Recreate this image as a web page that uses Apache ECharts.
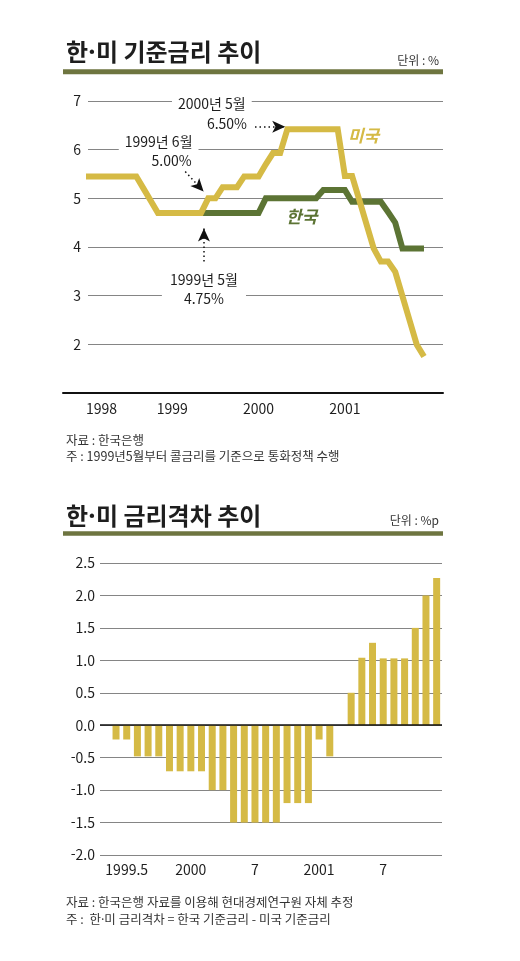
<!DOCTYPE html>
<html lang="ko">
<head>
<meta charset="utf-8">
<title>한·미 기준금리 추이</title>
<script src="https://cdn.jsdelivr.net/npm/echarts@6.0.0/dist/echarts.min.js"></script>
<style>
  html, body { margin: 0; padding: 0; background: #fff; }
  #chart { width: 520px; height: 961px; }
</style>
</head>
<body>
<div id="chart"></div>
<script>
// 기준금리 (%), 월별 1998.1 ~ 2001.12
var yearLabels = ['1998', '1999', '2000', '2001'];
var usRate = [
  5.45, 5.45, 5.45, 5.45, 5.45, 5.45, 5.45, 5.45, 5.2, 4.95, 4.7, 4.7,
  4.7, 4.7, 4.7, 4.7, 4.7, 5.0, 5.0, 5.23, 5.23, 5.23, 5.45, 5.45,
  5.45, 5.7, 5.93, 5.93, 6.42, 6.42, 6.42, 6.42, 6.42, 6.42, 6.42, 6.42,
  5.46, 5.46, 4.97, 4.47, 3.97, 3.7, 3.7, 3.49, 2.99, 2.49, 1.99, 1.75
];
// 한국 콜금리 목표: 1999.5 부터
var krStart = 16;
var krRate = [
  4.7, 4.7, 4.7, 4.7, 4.7, 4.7, 4.7, 4.7, 4.7,
  5.0, 5.0, 5.0, 5.0, 5.0, 5.0, 5.0, 5.0,
  5.17, 5.17, 5.17, 5.17,
  4.93, 4.93, 4.93, 4.93, 4.93,
  4.72, 4.5, 3.97, 3.97, 3.97, 3.97
];

// 한·미 금리격차 (%p), 1999.5 ~ 2001.12
var gapMonths = [
  '1999.5', '1999.6', '1999.7', '1999.8', '1999.9', '1999.10', '1999.11', '1999.12',
  '2000.1', '2000.2', '2000.3', '2000.4', '2000.5', '2000.6', '2000.7', '2000.8',
  '2000.9', '2000.10', '2000.11', '2000.12', '2001.1', '2001.2', '2001.3', '2001.4',
  '2001.5', '2001.6', '2001.7', '2001.8', '2001.9', '2001.10', '2001.11', '2001.12'
];
var gapTicks = [
  '1999.5', '', '', '', '', '', '', '', '2000', '', '', '', '', '', '7', '',
  '', '', '', '', '2001', '', '', '', '', '', '7', '', '', '', '', ''
];
var gapValues = [
  0, -0.22, -0.22, -0.48, -0.48, -0.48, -0.71, -0.71, -0.71, -0.71, -1.0, -1.0,
  -1.5, -1.5, -1.5, -1.5, -1.5, -1.2, -1.2, -1.2, -0.22, -0.48, 0, 0.5,
  1.04, 1.27, 1.03, 1.03, 1.03, 1.5, 2.0, 2.27
];

// 주석 (데이터 좌표: 월 index, %)
var notes = [
  { name: '2000년 5월', coord: [17.5, 6.94] },
  { name: '6.50%', coord: [19.6, 6.54] },
  { name: '1999년 6월', coord: [10.1, 6.16] },
  { name: '5.00%', coord: [11.9, 5.77] },
  { name: '1999년 5월', coord: [16.4, 3.32] },
  { name: '4.75%', coord: [16.4, 2.93], label: { padding: [2, 22] } }
];
var arrows = [
  [[23.5, 6.47], [27.7, 6.47]],
  [[13.8, 5.55], [16.35, 5.14]],
  [[16.4, 3.70], [16.4, 4.38]]
];

var FONT = '"Noto Sans CJK KR", "Noto Sans", sans-serif';
var YELLOW = '#D5BA45';
var GREEN = '#5C7434';
var OLIVE = '#6E7540';
var INK = '#1e1e1e';

var chart = echarts.init(document.getElementById('chart'), null, { renderer: 'canvas' });

var option = {
  animation: false,
  backgroundColor: '#fff',
  textStyle: { fontFamily: FONT },
  title: [
    { text: '한·미 기준금리 추이', left: 61, top: 35,
      textStyle: { fontSize: 24, fontWeight: 'bold', color: INK, fontFamily: FONT } },
    { text: '단위 : %', right: 76, top: 49,
      textStyle: { fontSize: 12, fontWeight: 'normal', color: '#333', fontFamily: FONT } },
    { text: '자료 : 한국은행\n주 : 1999년5월부터 콜금리를 기준으로 통화정책 수행', left: 61, top: 427,
      textStyle: { fontSize: 12.5, lineHeight: 16, fontWeight: 'normal', color: '#333', fontFamily: FONT } },
    { text: '한·미 금리격차 추이', left: 61, top: 499,
      textStyle: { fontSize: 24, fontWeight: 'bold', color: INK, fontFamily: FONT } },
    { text: '단위 : %p', right: 76, top: 509,
      textStyle: { fontSize: 12, fontWeight: 'normal', color: '#333', fontFamily: FONT } },
    { text: '자료 : 한국은행 자료를 이용해 현대경제연구원 자체 추정\n주 :  한·미 금리격차 = 한국 기준금리 - 미국 기준금리', left: 61, top: 889,
      textStyle: { fontSize: 12.5, lineHeight: 17, fontWeight: 'normal', color: '#333', fontFamily: FONT } }
  ],
  graphic: [
    { type: 'rect', shape: { x: 63, y: 69.3, width: 380, height: 5 }, style: { fill: OLIVE } },
    { type: 'rect', shape: { x: 63, y: 531.3, width: 380, height: 4.5 }, style: { fill: OLIVE } }
  ],
  grid: [
    { left: 63, right: 77, top: 101, bottom: 568 },   // 하단 검은 기준선
    { left: 88, right: 77, top: 101, bottom: 568 },   // 눈금선
    { left: 86, right: 96, top: 101, bottom: 568 },   // 금리 선
    { left: 100, right: 78, top: 563, bottom: 106 }   // 금리격차 막대
  ],
  xAxis: [
    { gridIndex: 0, type: 'value', min: 0, max: 1, z: 5,
      axisLine: { show: true, lineStyle: { color: '#111', width: 2 } },
      axisTick: { show: false }, axisLabel: { show: false }, splitLine: { show: false } },
    { gridIndex: 1, type: 'value', min: 0, max: 1, show: false },
    { gridIndex: 2, type: 'value', min: 0, max: 47, interval: 12,
      axisLine: { show: false }, axisTick: { show: false }, splitLine: { show: false },
      axisLabel: { margin: 9, fontSize: 14, color: INK, fontFamily: FONT,
        showMaxLabel: false, alignMinLabel: 'left',
        formatter: function (v) { return yearLabels[v / 12] || ''; } } },
    { gridIndex: 3, type: 'category', data: gapMonths,
      axisLine: { show: false, onZero: false }, axisTick: { show: false },
      axisLabel: { interval: 0, margin: 8, fontSize: 14, color: INK, fontFamily: FONT,
        alignMinLabel: 'left',
        formatter: function (v, i) { return gapTicks[i]; } } }
  ],
  yAxis: [
    { gridIndex: 0, type: 'value', min: 1, max: 7, show: false },
    { gridIndex: 1, type: 'value', min: 1, max: 7, interval: 1,
      axisLine: { show: false }, axisTick: { show: false },
      splitLine: { lineStyle: { color: '#858585', width: 1 } },
      axisLabel: { margin: 7, fontSize: 14, color: INK, fontFamily: FONT,
        formatter: function (v) { return v === 1 ? '' : String(v); } } },
    { gridIndex: 2, type: 'value', min: 1, max: 7, show: false },
    { gridIndex: 3, type: 'value', min: -2, max: 2.5, interval: 0.5,
      axisLine: { show: false }, axisTick: { show: false },
      splitLine: { lineStyle: { color: '#858585', width: 1 } },
      axisLabel: { margin: 5, fontSize: 14, color: INK, fontFamily: FONT,
        formatter: function (v) { return v.toFixed(1); } } }
  ],
  series: [
    {
      name: '한국', type: 'line', xAxisIndex: 2, yAxisIndex: 2, z: 2,
      data: krRate.map(function (v, i) { return [krStart + i, v]; }),
      symbol: 'none', silent: true,
      lineStyle: { color: GREEN, width: 6, join: 'miter' },
      markPoint: {
        symbol: 'circle', symbolSize: 0, silent: true,
        label: { show: true, position: 'inside', formatter: '{b}', color: GREEN,
          fontSize: 17, fontWeight: 'bold', fontStyle: 'italic', fontFamily: FONT },
        data: [{ name: '한국', coord: [30.0, 4.62] }]
      }
    },
    {
      name: '미국', type: 'line', xAxisIndex: 2, yAxisIndex: 2, z: 3,
      data: usRate.map(function (v, i) { return [i, v]; }),
      symbol: 'none', silent: true,
      lineStyle: { color: YELLOW, width: 6, join: 'miter' },
      markLine: {
        silent: true, symbol: ['none', 'arrow'], symbolSize: [9, 13],
        label: { show: false },
        lineStyle: { color: '#111', width: 1.5, type: [1.5, 3] },
        data: arrows.map(function (a) { return [{ coord: a[0] }, { coord: a[1] }]; })
      },
      markPoint: {
        symbol: 'circle', symbolSize: 0, silent: true,
        label: { show: true, position: 'inside', formatter: '{b}', color: INK,
          fontSize: 14, fontFamily: FONT, backgroundColor: '#fff', padding: [2, 6] },
        data: notes.concat([{ name: '미국', coord: [38.6, 6.30],
          label: { color: YELLOW, fontSize: 17, fontWeight: 'bold', fontStyle: 'italic',
            backgroundColor: 'transparent' } }])
      }
    },
    {
      name: '금리격차', type: 'bar', xAxisIndex: 3, yAxisIndex: 3,
      data: gapValues, barWidth: 7, silent: true,
      itemStyle: { color: YELLOW },
      markLine: {
        silent: true, symbol: 'none', label: { show: false },
        lineStyle: { color: '#111', width: 1.5, type: 'solid' },
        data: [{ yAxis: 0 }]
      }
    }
  ]
};

chart.setOption(option);
</script>
</body>
</html>
